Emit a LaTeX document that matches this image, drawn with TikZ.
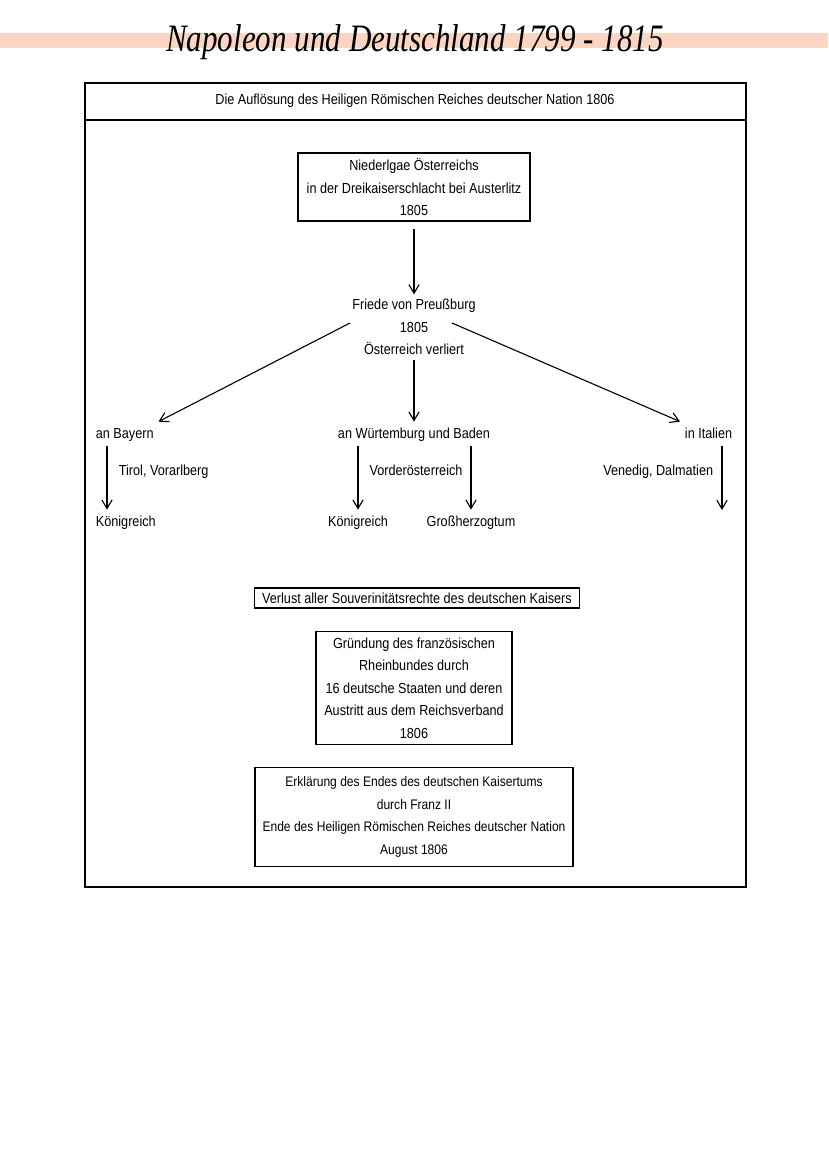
\documentclass[tikz,border=0pt]{standalone}
\usepackage{fontspec}
\setmainfont{Liberation Sans}[FakeStretch=0.87]
\newfontfamily\titlefont{Liberation Serif}[FakeStretch=0.8]
\usetikzlibrary{arrows.meta, positioning, calc}
\definecolor{stripe}{RGB}{250,214,194}

\begin{document}
\begin{tikzpicture}[
    x = 0.02536cm, y = -0.02536cm,
    every node/.style = {font=\fontsize{10.5}{16.2}\selectfont},
    box/.style = {rectangle, draw, line width=1pt, align=center},
    lbl/.style = {rectangle, draw=none, anchor=#1,% side fixed
    text height=1.6ex, text depth=0.45ex},
    arr/.style = {-{Straight Barb[length=2.2mm, width=2.6mm]}, line width=0.8pt}
    ]
    \useasboundingbox (0,0) rectangle (828,1171);
    %
    % title and stripe
    \fill[stripe] (0,33) rectangle (828,48);
    \node (title) at (415,42) {\titlefont\itshape\fontsize{28}{28}\selectfont Napoleon und Deutschland 1799 - 1815};
    %
    % frame
    \draw[line width=1.3pt] (85,83) rectangle (746,887);
    \draw[line width=1.3pt] (85,120) -- (746,120);
    \node (header) at (415,101) {Die Auflösung des Heiligen Römischen Reiches deutscher Nation 1806};
    %
    \node[box, minimum width=5.88cm, minimum height=1.72cm] (niederlage) at (414,187)
        {Niederlgae Österreichs\\in der Dreikaiserschlacht bei Austerlitz\\1805};
    \node[align=center] (friede) at (414,327) {Friede von Preußburg\\1805\\Österreich verliert};
    \coordinate (fl) at (350,323);
    \coordinate (fr) at (452,323);
    %
    \node[lbl=west] (bayern) at (91,434) {an Bayern};
    \node[lbl=center] (wuert) at (414,434) {an Würtemburg und Baden};
    \node[lbl=east] (italien) at (737,434) {in Italien};
    %
    \node[lbl=west] (tirol) at (114,471) {Tirol, Vorarlberg};
    \node[lbl=center] (vorder) at (416,471) {Vorderösterreich};
    \node[lbl=east] (venedig) at (718,471) {Venedig, Dalmatien};
    %
    \node[lbl=west] (koenigA) at (91,522) {Königreich};
    \node[lbl=center] (koenigB) at (358,522) {Königreich};
    \node[lbl=center] (herzog) at (471,522) {Großherzogtum};
    \coordinate (bayArr) at (107,510);
    \coordinate (italEnd) at (722,510);
    %
    \node[box, minimum width=8.24cm, minimum height=0.51cm] (verlust) at (417,598)
        {Verlust aller Souverinitätsrechte des deutschen Kaisers};
    \node[box, minimum width=4.97cm, minimum height=2.87cm] (rheinbund) at (414,688)
        {Gründung des französischen\\Rheinbundes durch\\16 deutsche Staaten und deren\\Austritt aus dem Reichsverband\\1806};
    \node[box, minimum width=8.06cm, minimum height=2.51cm,
        font=\fontsize{10}{16.2}\selectfont] (ende) at (414,817)
        {Erklärung des Endes des deutschen Kaisertums\\durch Franz II\\Ende des Heiligen Römischen Reiches deutscher Nation\\August 1806};
    %
    % connectors
    \draw[arr, shorten <=5pt] (niederlage) -- (friede);
    \draw[arr] (fl) -- (bayern.north east);
    \draw[arr] (fr) -- (italien.north west);
    \draw[arr] (friede.south) -- (wuert.north);
    \draw[arr] (bayArr |- bayern.south) -- (bayArr |- koenigA.north);
    \draw[arr] (koenigB |- wuert.south) -- (koenigB.north);
    \draw[arr] (herzog |- wuert.south) -- (herzog.north);
    \draw[arr] (italEnd |- italien.south) -- (italEnd);
\end{tikzpicture}
\end{document}
